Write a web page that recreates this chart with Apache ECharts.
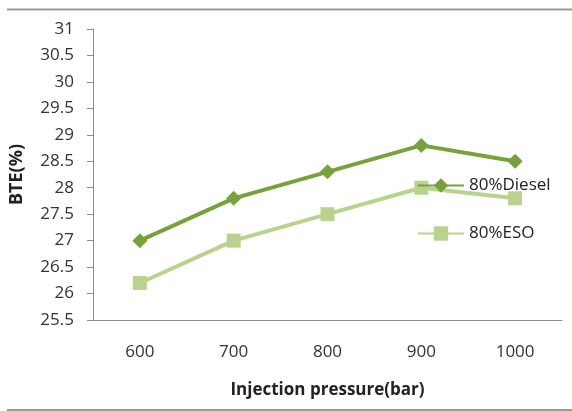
<!DOCTYPE html>
<html>
<head>
<meta charset="utf-8">
<script src="https://cdn.jsdelivr.net/npm/echarts@6/dist/echarts.min.js"></script>
<style>
html,body{margin:0;padding:0;background:#fff;}
#c{width:572px;height:411px;}
</style>
</head>
<body>
<div id="c"></div>
<script>
const categories = ['600', '700', '800', '900', '1000'];
const dieselValues = [27.0, 27.8, 28.3, 28.8, 28.5];
const esoValues = [26.2, 27.0, 27.5, 28.0, 27.8];
const seriesNames = ['80%Diesel', '80%ESO'];
const xTitle = 'Injection pressure(bar)';
const yTitle = 'BTE(%)';

const font = 'Open Sans, Liberation Sans, sans-serif';
const chart = echarts.init(document.getElementById('c'));
chart.setOption({
  animation: false,
  backgroundColor: '#fff',
  grid: { left: 92, right: 10, top: 29, bottom: 91, containLabel: false },
  xAxis: {
    type: 'category',
    data: categories,
    boundaryGap: true,
    name: xTitle,
    nameLocation: 'middle',
    nameGap: 62,
    nameTextStyle: { fontFamily: font, fontWeight: 'bold', fontSize: 17, color: '#222' },
    axisLine: { lineStyle: { color: '#8c8c8c', width: 1 } },
    axisTick: { show: false },
    axisLabel: { fontFamily: font, fontSize: 17, color: '#333', margin: 24 },
    splitLine: { show: false }
  },
  yAxis: {
    type: 'value',
    min: 25.5,
    max: 31,
    interval: 0.5,
    name: yTitle,
    nameLocation: 'middle',
    nameGap: 67,
    nameTextStyle: { fontFamily: font, fontWeight: 'bold', fontSize: 18, color: '#222' },
    axisLine: { show: true, lineStyle: { color: '#8c8c8c', width: 1 } },
    axisTick: { show: true, inside: false, length: 6, lineStyle: { color: '#8c8c8c' } },
    axisLabel: { fontFamily: font, fontSize: 17, color: '#333', margin: 19 },
    splitLine: { show: false }
  },
  legend: {
    orient: 'vertical',
    left: 417,
    top: 177,
    padding: 0,
    itemWidth: 46,
    itemHeight: 18,
    itemGap: 31,
    textStyle: { fontFamily: font, fontSize: 17, color: '#222' },
    data: seriesNames
  },
  series: [
    {
      name: seriesNames[0],
      type: 'line',
      data: dieselValues,
      symbol: 'diamond',
      symbolSize: 15,
      lineStyle: { color: '#77A13A', width: 4 },
      itemStyle: { color: '#77A13A' }
    },
    {
      name: seriesNames[1],
      type: 'line',
      data: esoValues,
      symbol: 'rect',
      symbolSize: 14,
      lineStyle: { color: '#B9D38F', width: 4 },
      itemStyle: { color: '#B9D38F' }
    }
  ],
  graphic: [
    { type: 'line', shape: { x1: 7, y1: 9.5, x2: 572, y2: 9.5 }, style: { stroke: '#9a9a9a', lineWidth: 2 } },
    { type: 'line', shape: { x1: 7, y1: 410, x2: 572, y2: 410 }, style: { stroke: '#9a9a9a', lineWidth: 2 } }
  ]
});
</script>
</body>
</html>
